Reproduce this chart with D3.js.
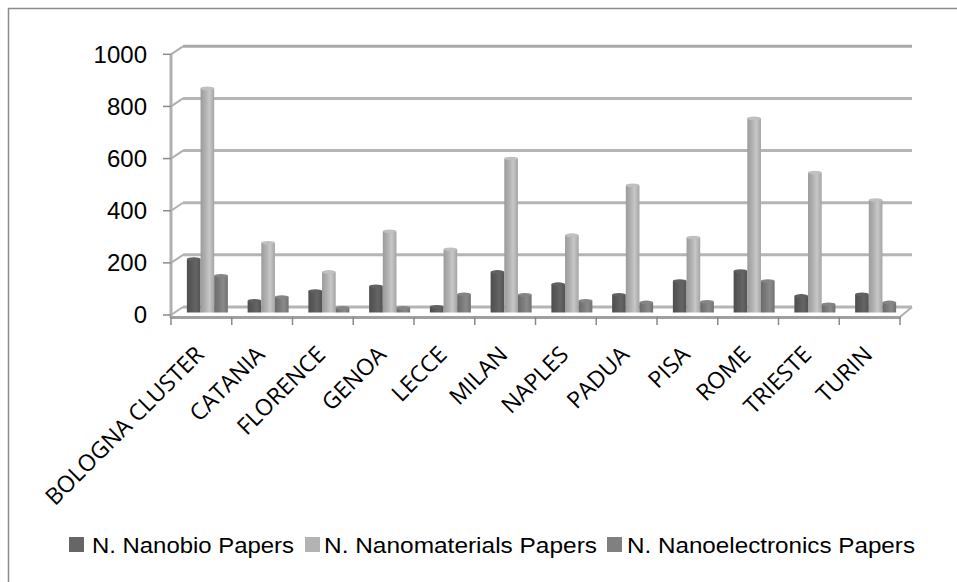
<!DOCTYPE html>
<html>
<head>
<meta charset="utf-8">
<script src="https://cdn.jsdelivr.net/npm/d3@7"></script>
<style>
body { margin: 0; background: #fff; }
svg { display: block; }
</style>
</head>
<body>
<div id="main_div"></div>
<script>
var cities = ["BOLOGNA CLUSTER", "CATANIA", "FLORENCE", "GENOA", "LECCE", "MILAN", "NAPLES", "PADUA", "PISA", "ROME", "TRIESTE", "TURIN"];
var nanobio = [197, 37, 75, 93, 14, 148, 101, 60, 113, 151, 56, 62];
var nanomaterials = [852, 260, 148, 304, 235, 583, 289, 480, 280, 737, 529, 424];
var nanoelectronics = [133, 52, 10, 10, 62, 60, 37, 31, 33, 113, 24, 31];
var series_names = ["N. Nanobio Papers", "N. Nanomaterials Papers", "N. Nanoelectronics Papers"];
var y_ticks = [0, 200, 400, 600, 800, 1000];

var series = [nanobio, nanomaterials, nanoelectronics];
var base_colors = ["#5c5c5c", "#b6b6b6", "#7e7e7e"];
var legend_colors = ["#666666", "#b3b3b3", "#808080"];

var W = 957, H = 582;
var dx = 12, dy = -8;   // depth of the 3d box

var svg = d3.select("#main_div").append("svg").attr("width", W).attr("height", H);

// outer frame
svg.append("rect").attr("x", 8.5).attr("y", 8.5).attr("width", W + 10).attr("height", H + 10)
    .attr("fill", "none").attr("stroke", "#8c8c8c").attr("stroke-width", 1.5);

var x_scale = d3.scaleBand().domain(cities).range([171, 900]);
var y_front = d3.scaleLinear().domain([0, 1000]).range([315, 54.3]);
function y_back(v) { return y_front(v) + dy; }
function y_mid(v) { return y_front(v) + dy / 2 - 0.5; }

var inner = d3.scaleBand().domain([0, 1, 2])
    .range([(x_scale.bandwidth() - 41) / 2 + dx / 2, (x_scale.bandwidth() + 41) / 2 + dx / 2]);

// gradients for the cylinder look
var defs = svg.append("defs");
base_colors.forEach(function(c, i) {
    var g = defs.append("linearGradient").attr("id", "grad" + i).attr("x1", 0).attr("x2", 1).attr("y1", 0).attr("y2", 0);
    var col = d3.color(c);
    g.append("stop").attr("offset", "0%").attr("stop-color", col.darker(0.45));
    g.append("stop").attr("offset", "35%").attr("stop-color", col.darker(0.1));
    g.append("stop").attr("offset", "65%").attr("stop-color", col.brighter(0.25));
    g.append("stop").attr("offset", "100%").attr("stop-color", col.darker(0.3));
});

// back gridlines
var grid = svg.append("g");
grid.selectAll("line.grid").data(y_ticks).enter().append("line")
    .attr("x1", 171 + dx).attr("x2", 900 + dx)
    .attr("y1", function(d) { return y_back(d); })
    .attr("y2", function(d) { return y_back(d); })
    .attr("stroke", function(d) { return d == 1000 ? "#a9a9a9" : "#b5b5b5"; })
    .attr("stroke-width", 3);
grid.selectAll("line.diag").data(y_ticks).enter().append("line")
    .attr("x1", 171).attr("x2", 171 + dx)
    .attr("y1", function(d) { return y_front(d); })
    .attr("y2", function(d) { return y_back(d); })
    .attr("stroke", "#b0b0b0").attr("stroke-width", 2);
// right end of floor
grid.append("line").attr("x1", 900).attr("x2", 900 + dx)
    .attr("y1", y_front(0) + 2).attr("y2", y_back(0))
    .attr("stroke", "#b0b0b0").attr("stroke-width", 2);

// bars
var bars = svg.append("g");
series.forEach(function(vals, s) {
    var g = bars.append("g");
    var enter = g.selectAll("rect").data(vals).enter();
    enter.append("rect")
        .attr("x", function(d, i) { return x_scale(cities[i]) + inner(s); })
        .attr("width", inner.bandwidth())
        .attr("y", function(d) { return y_mid(d); })
        .attr("height", function(d) { return y_mid(0) + 2 - y_mid(d); })
        .attr("fill", "url(#grad" + s + ")");
    enter.append("ellipse")
        .attr("cx", function(d, i) { return x_scale(cities[i]) + inner(s) + inner.bandwidth() / 2; })
        .attr("cy", function(d) { return y_mid(d); })
        .attr("rx", inner.bandwidth() / 2)
        .attr("ry", 1.8)
        .attr("fill", d3.color(base_colors[s]).brighter(0.15));
});

// front axes
var axes = svg.append("g");
axes.append("line").attr("x1", 171).attr("x2", 171).attr("y1", y_front(1000)).attr("y2", 318)
    .attr("stroke", "#b0b0b0").attr("stroke-width", 3);
axes.selectAll("line.ytick").data(y_ticks).enter().append("line")
    .attr("x1", 163).attr("x2", 171)
    .attr("y1", function(d) { return y_front(d); })
    .attr("y2", function(d) { return y_front(d); })
    .attr("stroke", "#8a8a8a").attr("stroke-width", 1.5);
axes.append("line").attr("x1", 170).attr("x2", 901).attr("y1", 317.5).attr("y2", 317.5)
    .attr("stroke", "#a0a0a0").attr("stroke-width", 3);
var xticks = cities.map(function(c) { return x_scale(c); }).concat([900]);
axes.selectAll("line.xtick").data(xticks).enter().append("line")
    .attr("x1", function(d) { return d; }).attr("x2", function(d) { return d; })
    .attr("y1", 317).attr("y2", 325)
    .attr("stroke", "#8a8a8a").attr("stroke-width", 1.5);

// y labels
axes.selectAll("text.ylab").data(y_ticks).enter().append("text")
    .attr("x", 147).attr("y", function(d) { return y_front(d); })
    .attr("dy", "0.35em")
    .attr("text-anchor", "end")
    .attr("font-family", "Liberation Sans, Arial, sans-serif")
    .attr("font-size", 24)
    .attr("fill", "#000")
    .text(function(d) { return d; });

// category labels
axes.selectAll("text.xlab").data(cities).enter().append("text")
    .attr("transform", function(d) {
        return "translate(" + (x_scale(d) + x_scale.bandwidth() / 2 + 4) + ",356) rotate(-45)";
    })
    .attr("text-anchor", "end")
    .attr("font-family", "Open Sans, sans-serif")
    .attr("font-size", 23)
    .attr("fill", "#000")
    .text(function(d) { return d; });

// legend
var legend_items = [
    {sq: 69, tx: 92, len: 202},
    {sq: 305, tx: 324, len: 273},
    {sq: 607, tx: 627, len: 288}
];
var legend = svg.append("g");
legend_items.forEach(function(it, i) {
    legend.append("rect").attr("x", it.sq).attr("y", 537).attr("width", 15).attr("height", 15)
        .attr("fill", legend_colors[i]);
    legend.append("text").attr("x", it.tx).attr("y", 553)
        .attr("font-family", "Liberation Sans Narrow, Liberation Sans, Arial, sans-serif")
        .attr("font-size", 22)
        .attr("textLength", it.len)
        .attr("lengthAdjust", "spacingAndGlyphs")
        .text(series_names[i]);
});
</script>
</body>
</html>
